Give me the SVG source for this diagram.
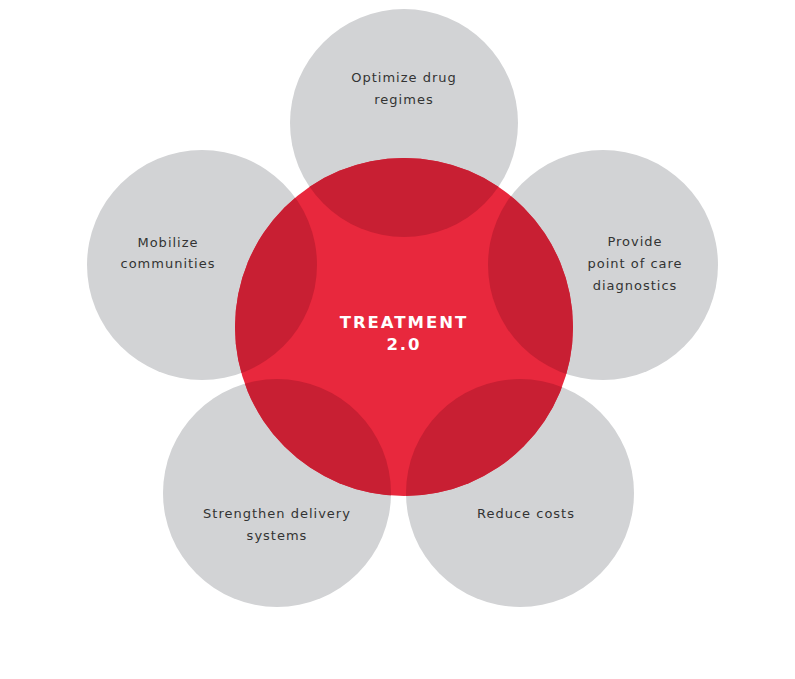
<svg xmlns="http://www.w3.org/2000/svg" width="795" height="679" viewBox="0 0 795 679">
<style>
.petal{fill:#d2d3d5}
.ov{fill:#c81f33}
.lbl{font-family:"DejaVu Sans",sans-serif;font-size:13px;letter-spacing:1px;fill:#333333;text-anchor:middle}
.ctr{font-family:"DejaVu Sans",sans-serif;font-size:16.5px;font-weight:bold;letter-spacing:2px;fill:#ffffff;text-anchor:middle}
</style>
<defs>
<clipPath id="redclip"><circle cx="404" cy="327" r="169"/></clipPath>
</defs>
<rect width="795" height="679" fill="#ffffff"/>
<g id="node-top"><circle class="petal" cx="404" cy="123" r="114"/>
<text class="lbl" x="404" y="82">Optimize drug</text><text class="lbl" x="404" y="104">regimes</text></g>
<g id="node-left"><circle class="petal" cx="202" cy="265" r="115"/>
<text class="lbl" x="168" y="247">Mobilize</text><text class="lbl" x="168" y="268">communities</text></g>
<g id="node-right"><circle class="petal" cx="603" cy="265" r="115"/>
<text class="lbl" x="635" y="246">Provide</text><text class="lbl" x="635" y="268">point of care</text><text class="lbl" x="635" y="290">diagnostics</text></g>
<g id="node-bottom-left"><circle class="petal" cx="277" cy="493" r="114"/>
<text class="lbl" x="277" y="518">Strengthen delivery</text><text class="lbl" x="277" y="540">systems</text></g>
<g id="node-bottom-right"><circle class="petal" cx="520" cy="493" r="114"/>
<text class="lbl" x="526" y="518">Reduce costs</text></g>
<g id="node-center">
<circle cx="404" cy="327" r="169" fill="#e8283d"/>
<g clip-path="url(#redclip)">
<circle class="ov" cx="404" cy="123" r="114"/>
<circle class="ov" cx="202" cy="265" r="115"/>
<circle class="ov" cx="603" cy="265" r="115"/>
<circle class="ov" cx="277" cy="493" r="114"/>
<circle class="ov" cx="520" cy="493" r="114"/>
</g>
<text class="ctr" x="404" y="328">TREATMENT</text>
<text class="ctr" x="404" y="350">2.0</text>
</g>
<g id="connectors"></g>
</svg>
